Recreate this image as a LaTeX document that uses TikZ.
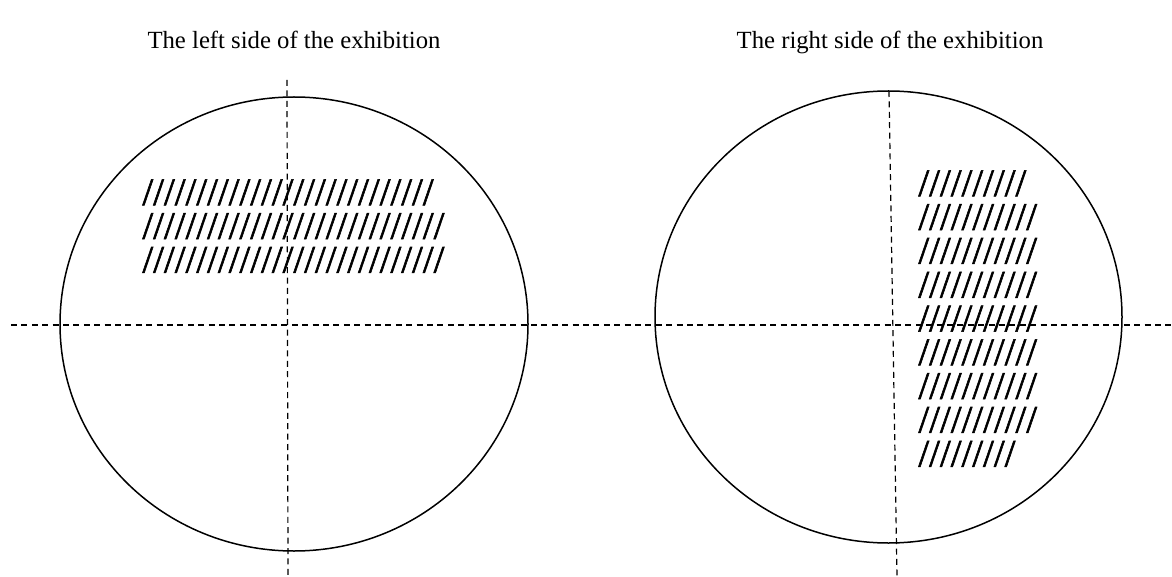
\documentclass[tikz,border=0pt]{standalone}
\usepackage{fontspec}
\setmainfont{Liberation Serif}
\newfontfamily\markfont[FakeBold=1.5]{Liberation Serif}
\usetikzlibrary{shapes.geometric}

\begin{document}
\begin{tikzpicture}[
  x=0.5pt, y=-0.5pt,
  title/.style={font=\fontsize{12.35}{15}\selectfont, inner sep=0pt, anchor=base},
  field/.style={draw, ellipse, line width=0.75pt, inner sep=0pt},
  axis/.style={dashed, line width=0.6pt, dash pattern=on 3pt off 2.2pt},
  marks/.style={align=left, anchor=north west, inner sep=0pt, font=\markfont\fontsize{19.4}{16.9}\selectfont}
]
\useasboundingbox (0,0) rectangle (1172,577);

% titles
\node[title] (leftTitle) at (294,49) {The left side of the exhibition};
\node[title] (rightTitle) at (890,49) {The right side of the exhibition};

% the two fields
\node[field, minimum width=234pt, minimum height=227pt] (leftField) at (294,324) {};
\node[field, minimum width=233.5pt, minimum height=226pt] (rightField) at (888.5,317) {};

% axes
\coordinate (hStart) at (11,325);
\coordinate (hEnd) at (1172,325);
\coordinate (lTop) at (287,80);
\coordinate (lBot) at (288,577);
\coordinate (rTop) at (889,91);
\coordinate (rBot) at (897,577);
\draw[axis] (hStart) -- (hEnd);
\draw[axis] (lTop) -- (lBot);
\draw[axis] (rTop) -- (rBot);

% hatched text
\node[marks] (leftMarks) at (142,179) {///////////////////////////\\////////////////////////////\\////////////////////////////};
\node[marks] (rightMarks) at (918,170) {//////////\\///////////\\///////////\\///////////\\///////////\\///////////\\///////////\\///////////\\/////////};
\end{tikzpicture}
\end{document}
